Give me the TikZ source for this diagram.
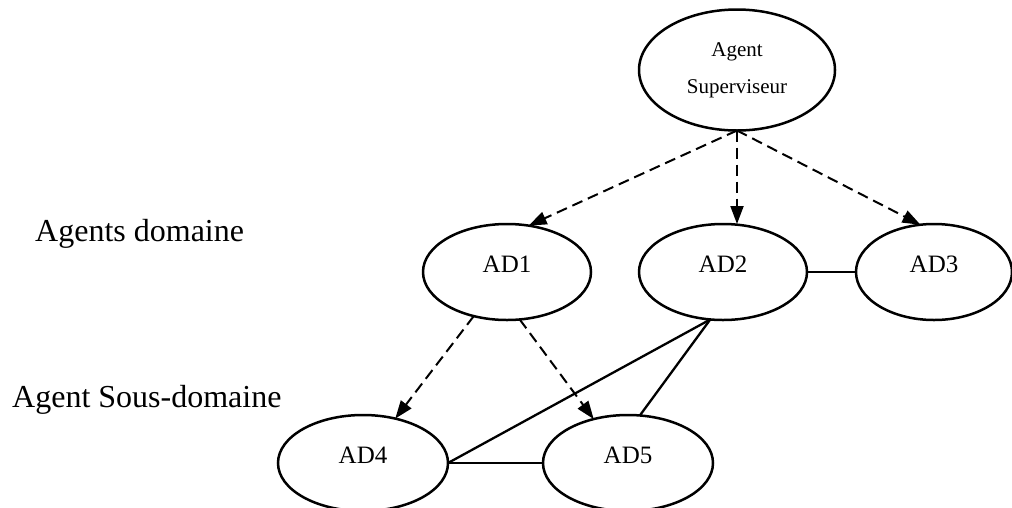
\documentclass[tikz,border=0pt]{standalone}
\usepackage{fontspec}
\setmainfont{Liberation Serif}
\usetikzlibrary{shapes.geometric,arrows.meta}
\begin{document}
\begin{tikzpicture}[x=1pt,y=-1pt,
  agentshape/.style={ellipse, draw, line width=2.5pt, inner sep=0pt, outer sep=0pt},
  domainagent/.style={agentshape, minimum width=168pt, minimum height=96pt,
    font=\fontsize{25}{30}\selectfont, text height=10pt, text depth=10pt},
  order/.style={dash pattern=on 11pt off 6pt, line width=2pt,
    -{Triangle[length=18pt,width=13pt]}},
  link/.style={line width=2.3pt},
  levelname/.style={font=\fontsize{32}{38}\selectfont, inner sep=0pt, anchor=base west}]
\useasboundingbox (0,0) rectangle (1012,507);
\clip (0,0) rectangle (1012,507);

% level captions
\node[levelname] (lvl1) at (35,241) {Agents domaine};
\node[levelname] (lvl2) at (12,407) {Agent Sous-domaine};

% agents
\node[agentshape, minimum width=196pt, minimum height=121pt, align=center,
  font=\fontsize{21}{37}\selectfont] (S) at (737,70) {Agent\\Superviseur};
\node[domainagent] (AD1) at (507,272) {AD1};
\node[domainagent] (AD2) at (723,272) {AD2};
\node[domainagent, minimum width=156pt] (AD3) at (934,272) {AD3};
\node[domainagent, minimum width=170pt] (AD4) at (363,463) {AD4};
\node[domainagent, minimum width=170pt] (AD5) at (628,463) {AD5};

% delegation (dashed arrows)
\draw[order] (S.south) -- (AD1.65);
\draw[order] (S.south) -- (S.south |- AD2.north);
\draw[order] (S.south) -- (AD3.106);
\draw[order] (AD1.233) -- (AD4.54);
\draw[order] (AD1.285) -- (AD5.128);

% cooperation links
\draw[link] (AD2.east) -- (AD3.west);
\draw[link] (AD2.255) -- (AD4.east);
\draw[link] (AD2.255) -- (AD5.76);
\draw[link] (AD4.east) -- (AD5.west);
\end{tikzpicture}
\end{document}
